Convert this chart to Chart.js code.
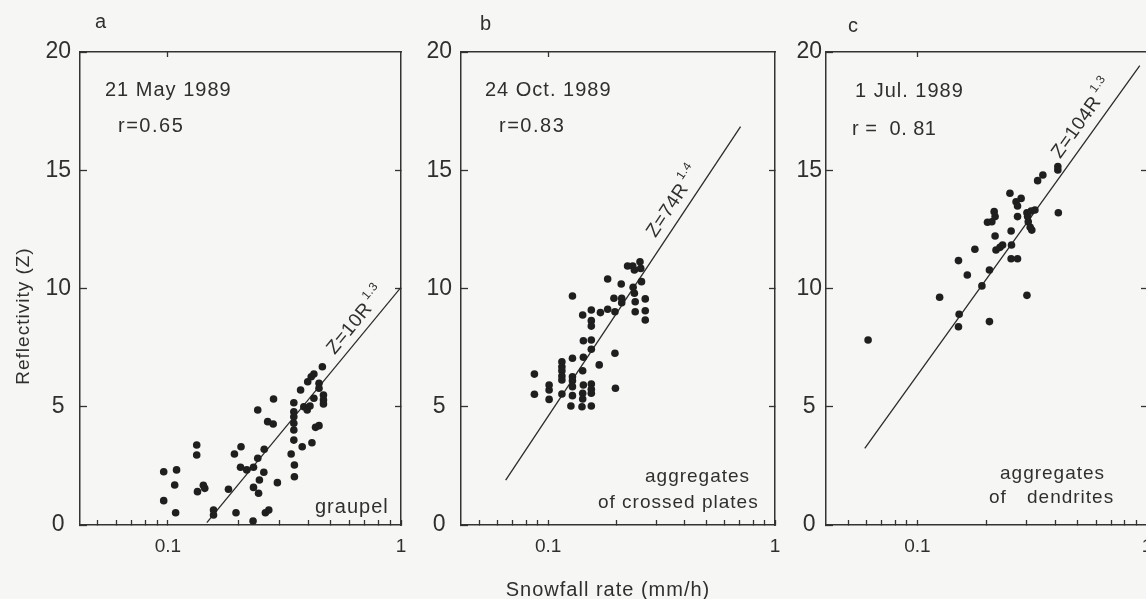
<!DOCTYPE html>
<html>
<head>
<meta charset="utf-8">
<title>Reflectivity vs snowfall rate</title>
<script src="https://cdn.jsdelivr.net/npm/chart.js@4.4.1/dist/chart.umd.min.js"></script>
<style>
  html, body { margin: 0; padding: 0; background: #f6f7f4; overflow: hidden; }
  #wrap { position: relative; width: 1146px; height: 599px; overflow: hidden; }
  canvas { position: absolute; top: 0; }
</style>
</head>
<body>
<div id="wrap">
  <canvas id="panelA" width="410" height="599" style="left:0px"></canvas>
  <canvas id="panelB" width="380" height="599" style="left:410px"></canvas>
  <canvas id="panelC" width="380" height="599" style="left:790px"></canvas>
</div>
<script>
// snowfall rate (mm/h) and reflectivity for each case
const aRate = [0.096, 0.109, 0.107, 0.096, 0.108, 0.133, 0.133, 0.134, 0.142, 0.144,
  0.157, 0.157, 0.182, 0.193, 0.206, 0.205, 0.196, 0.218, 0.233, 0.243,
  0.243, 0.259, 0.258, 0.247, 0.233, 0.245, 0.232, 0.262, 0.271, 0.268,
  0.283, 0.284, 0.295, 0.347, 0.347, 0.347, 0.347, 0.347, 0.347, 0.338,
  0.349, 0.349, 0.371, 0.377, 0.383, 0.396, 0.407, 0.398, 0.412, 0.423,
  0.415, 0.430, 0.445, 0.423, 0.445, 0.445, 0.460, 0.465, 0.465, 0.465];
const aRefl = [2.25, 2.33, 1.69, 1.03, 0.52, 3.38, 2.96, 1.41, 1.68, 1.55,
  0.63, 0.42, 1.51, 3.00, 3.31, 2.44, 0.52, 2.33, 2.44, 4.86,
  2.82, 3.20, 2.23, 1.90, 1.59, 1.34, 0.17, 0.52, 0.63, 4.37,
  4.27, 5.33, 1.79, 5.17, 4.79, 4.58, 4.30, 4.02, 3.59, 3.00,
  2.54, 2.04, 5.71, 3.31, 5.00, 4.86, 5.03, 6.06, 6.27, 6.38,
  3.48, 4.13, 4.20, 5.36, 5.99, 5.78, 6.69, 5.50, 5.29, 5.12];

const bRate = [0.087, 0.087, 0.101, 0.101, 0.101, 0.115, 0.115, 0.115, 0.115, 0.115,
  0.115, 0.128, 0.128, 0.128, 0.128, 0.128, 0.126, 0.128, 0.142, 0.143,
  0.143, 0.142, 0.143, 0.142, 0.142, 0.141, 0.155, 0.155, 0.155, 0.155,
  0.155, 0.155, 0.155, 0.155, 0.155, 0.168, 0.170, 0.183, 0.183, 0.195,
  0.197, 0.197, 0.198, 0.210, 0.211, 0.211, 0.224, 0.236, 0.237, 0.240,
  0.240, 0.242, 0.242, 0.254, 0.256, 0.258, 0.268, 0.268, 0.268];
const bRefl = [6.38, 5.53, 5.92, 5.71, 5.31, 6.90, 6.69, 6.52, 6.30, 6.13,
  5.54, 7.05, 6.27, 6.10, 5.85, 5.47, 5.03, 9.68, 8.88, 7.79,
  7.09, 6.52, 5.92, 5.57, 5.33, 5.00, 9.09, 8.64, 8.41, 7.82,
  7.43, 5.96, 5.74, 5.57, 5.03, 6.77, 8.98, 9.12, 10.40, 9.59,
  9.02, 7.26, 5.78, 10.19, 9.59, 9.40, 10.95, 10.95, 10.05, 10.78,
  9.80, 9.44, 9.02, 11.13, 10.85, 10.29, 9.56, 9.06, 8.67];

const cRate = [0.061, 0.125, 0.151, 0.152, 0.151, 0.165, 0.178, 0.191, 0.206, 0.206,
  0.202, 0.211, 0.216, 0.218, 0.218, 0.220, 0.229, 0.235, 0.253, 0.256,
  0.257, 0.256, 0.273, 0.269, 0.273, 0.283, 0.273, 0.300, 0.302, 0.304,
  0.310, 0.315, 0.313, 0.325, 0.300, 0.334, 0.352, 0.409, 0.409, 0.411];
const cRefl = [7.82, 9.63, 11.18, 8.91, 8.38, 10.57, 11.66, 10.11, 10.78, 8.60,
  12.80, 12.82, 13.25, 13.04, 12.22, 11.63, 11.74, 11.84, 14.03, 12.43,
  11.84, 11.26, 11.26, 13.67, 13.49, 13.81, 13.04, 13.20, 13.04, 12.82,
  12.59, 12.47, 13.28, 13.32, 9.71, 14.56, 14.80, 15.01, 15.16, 13.20];

// regression lines (end points)
const aFitRate = [0.147, 1.0];
const aFitRefl = [0.1, 10.05];
const bFitRate = [0.065, 0.705];
const bFitRefl = [1.9, 16.84];
const cFitRate = [0.059, 0.93];
const cFitRefl = [3.24, 19.42];

// axis ticks
const rateTicks = [0.05, 0.06, 0.07, 0.08, 0.09, 0.1, 0.2, 0.3, 0.4, 0.5, 0.6, 0.7, 0.8, 0.9, 1];
const rateLabels = [0.1, 1];
const reflTicks = [0, 5, 10, 15, 20];
const reflSideTicks = [5, 10, 15];

const ink = '#2f2f2f';
const font = '"Liberation Sans", Arial, Helvetica, sans-serif';

const textPlugin = {
  id: 'panelText',
  afterDraw(chart, args, opts) {
    const ctx = chart.ctx;
    (opts.items || []).forEach(item => {
      ctx.save();
      ctx.fillStyle = ink;
      ctx.font = `${item.size}px ${font}`;
      ctx.letterSpacing = (item.spacing || 0) + 'px';
      ctx.textAlign = item.align || 'left';
      ctx.textBaseline = 'alphabetic';
      ctx.translate(item.x, item.y);
      if (item.rotate) ctx.rotate(item.rotate);
      ctx.fillText(item.text, 0, 0);
      ctx.restore();
    });

    // equation written along the fitted line
    const fit = opts.fit;
    if (fit) {
      const pts = chart.getDatasetMeta(1).data;
      const p0 = pts[0], p1 = pts[pts.length - 1];
      const dx = p1.x - p0.x, dy = p1.y - p0.y;
      const len = Math.hypot(dx, dy);
      const ux = dx / len, uy = dy / len;
      const px = p0.x + dx * fit.t + uy * fit.offset;
      const py = p0.y + dy * fit.t - ux * fit.offset;
      ctx.save();
      ctx.fillStyle = ink;
      ctx.translate(px, py);
      ctx.rotate(Math.atan2(dy, dx));
      ctx.font = `19px ${font}`;
      ctx.letterSpacing = '0.5px';
      ctx.fillText(fit.text, 0, 0);
      const w = ctx.measureText(fit.text).width;
      ctx.font = `12px ${font}`;
      ctx.fillText(fit.power, w + 3, -10);
      ctx.restore();
    }
  }
};

function logAxis(pos, min, ticks, opts) {
  return Object.assign({
    type: 'logarithmic',
    axis: 'x',
    position: pos,
    min: min,
    max: 1,
    afterBuildTicks: (s) => { s.ticks = ticks.map(v => ({ value: v })); },
    border: { display: true, color: '#333', width: 1.5 },
    grid: { drawOnChartArea: false, drawTicks: true, tickLength: -5, tickColor: '#333', tickWidth: 1.3 }
  }, opts);
}

function linAxis(pos, ticks, opts) {
  return Object.assign({
    type: 'linear',
    axis: 'y',
    position: pos,
    min: 0,
    max: 20,
    afterBuildTicks: (s) => { s.ticks = ticks.map(v => ({ value: v })); },
    border: { display: true, color: '#333', width: 1.5 },
    grid: { drawOnChartArea: false, drawTicks: true, tickLength: -7, tickColor: '#333', tickWidth: 1.3 }
  }, opts);
}

// fixed box sizes so every panel's plot frame sits where it should
function fixWidth(w) {
  return (s) => { s.width = w; s.paddingTop = 0; s.paddingBottom = 0; };
}
function fixHeight(h) {
  return (s) => { s.height = h; s.paddingLeft = 0; s.paddingRight = 0; };
}

function makePanel(id, p) {
  const pts = p.rate.map((r, i) => ({ x: r, y: p.refl[i] }));
  const fit = p.fitRate.map((r, i) => ({ x: r, y: p.fitRefl[i] }));
  return new Chart(document.getElementById(id), {
    type: 'scatter',
    data: {
      datasets: [
        { data: pts, pointRadius: 3.8, pointBackgroundColor: '#1f1f1f', pointBorderWidth: 0 },
        { data: fit, showLine: true, pointRadius: 0, borderColor: '#2a2a2a', borderWidth: 1.3 }
      ]
    },
    options: {
      responsive: false,
      animation: false,
      events: [],
      layout: { padding: { left: 0, top: 52, right: p.padRight, bottom: 0 } },
      plugins: {
        legend: { display: false },
        tooltip: { enabled: false },
        panelText: { items: p.texts, fit: p.fitLabel }
      },
      scales: {
        x: logAxis('bottom', p.xMin, rateTicks, {
          afterFit: fixHeight(74),
          ticks: {
            autoSkip: false, maxRotation: 0, padding: 15,
            color: ink, font: { family: font, size: 19 },
            callback: (v) => rateLabels.includes(v) ? String(v) : ''
          }
        }),
        x2: logAxis('top', p.xMin, [0.1], {
          afterFit: fixHeight(0),
          ticks: { display: false }
        }),
        y: linAxis('left', reflTicks, {
          afterFit: fixWidth(p.axisLeft),
          ticks: {
            crossAlign: 'center', padding: p.labelPad,
            color: ink, font: { family: font, size: 23 }
          }
        }),
        y2: linAxis('right', reflSideTicks, {
          afterFit: fixWidth(0),
          grid: { drawOnChartArea: false, drawTicks: true, tickLength: -6, tickColor: '#333', tickWidth: 1.3 },
          ticks: { display: false }
        })
      }
    },
    plugins: [textPlugin]
  });
}

makePanel('panelA', {
  rate: aRate, refl: aRefl, fitRate: aFitRate, fitRefl: aFitRefl,
  xMin: 0.042, axisLeft: 80, padRight: 9, labelPad: 16,
  fitLabel: { text: 'Z=10R', power: '1.3', t: 0.69, offset: 8 },
  texts: [
    { text: 'a', x: 95, y: 28, size: 20 },
    { text: '21 May 1989', x: 105, y: 96, size: 20, spacing: 1 },
    { text: 'r=0.65', x: 118, y: 132, size: 20, spacing: 1.5 },
    { text: 'graupel', x: 315, y: 513, size: 20, spacing: 1 },
    { text: 'Reflectivity (Z)', x: 29, y: 316, size: 19, spacing: 1, align: 'center', rotate: -Math.PI / 2 }
  ]
});

makePanel('panelB', {
  rate: bRate, refl: bRefl, fitRate: bFitRate, fitRefl: bFitRefl,
  xMin: 0.0413, axisLeft: 51, padRight: 15, labelPad: 16,
  fitLabel: { text: 'Z=74R', power: '1.4', t: 0.67, offset: 9 },
  texts: [
    { text: 'b', x: 70, y: 30, size: 20 },
    { text: '24 Oct. 1989', x: 75, y: 96, size: 20, spacing: 1 },
    { text: 'r=0.83', x: 89, y: 132, size: 20, spacing: 1.5 },
    { text: 'aggregates', x: 235, y: 482, size: 19, spacing: 1 },
    { text: 'of crossed plates', x: 188, y: 508, size: 19, spacing: 1 },
    { text: 'Snowfall rate (mm/h)', x: 198, y: 596, size: 20, spacing: 1, align: 'center' }
  ]
});

makePanel('panelC', {
  rate: cRate, refl: cRefl, fitRate: cFitRate, fitRefl: cFitRefl,
  xMin: 0.040, axisLeft: 36, padRight: 23, labelPad: 11,
  fitLabel: { text: 'Z=104R', power: '1.3', t: 0.74, offset: 10 },
  texts: [
    { text: 'c', x: 58, y: 32, size: 20 },
    { text: '1 Jul. 1989', x: 65, y: 97, size: 20, spacing: 1 },
    { text: 'r =  0. 81', x: 62, y: 135, size: 20, spacing: 0.5 },
    { text: 'aggregates', x: 210, y: 479, size: 19, spacing: 1 },
    { text: 'of', x: 199, y: 503, size: 19, spacing: 1 },
    { text: 'dendrites', x: 237, y: 503, size: 19, spacing: 1 }
  ]
});
</script>
</body>
</html>
